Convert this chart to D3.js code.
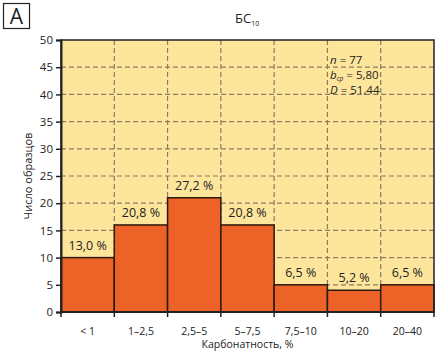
<!DOCTYPE html>
<html>
<head>
<meta charset="utf-8">
<script src="https://cdn.jsdelivr.net/npm/d3@7"></script>
<style>
    body { margin: 0; background: #fff; }
    svg text { font-family: "Open Sans", "Noto Sans", sans-serif; fill: #222; }
</style>
</head>
<body>
<svg id="chart" width="436" height="352"></svg>
<script>
// Data
const categories = ['< 1', '1–2,5', '2,5–5', '5–7,5', '7,5–10', '10–20', '20–40'];
const counts = [10, 16, 21, 16, 5, 4, 5];
const percentLabels = ['13,0 %', '20,8 %', '27,2 %', '20,8 %', '6,5 %', '5,2 %', '6,5 %'];
const yTicks = [0, 5, 10, 15, 20, 25, 30, 35, 40, 45, 50];

/**
 * Visual configs.
 */
const margin = { top: 40, right: 2, bottom: 40, left: 61 },
    width = 436 - margin.left - margin.right,
    height = 352 - margin.top - margin.bottom,
    bgColor = '#fde69c',
    barColor = '#ec6227',
    gridColor = '#8c7b5e';

const svg = d3.select('#chart');
const g = svg.append('g').attr('transform', 'translate(' + margin.left + ',' + margin.top + ')');

const xScale = d3.scaleBand().domain(categories).range([0, width]).padding(0);
const yScale = d3.scaleLinear().domain([0, 50]).range([height, 0]);

// Background
g.append('rect').attr('width', width).attr('height', height).attr('fill', bgColor);

// Grid
g.append('g').attr('class', 'grid')
    .selectAll('line.h').data(yTicks.slice(1, -1)).join('line')
    .attr('x1', 0).attr('x2', width)
    .attr('y1', d => yScale(d)).attr('y2', d => yScale(d))
    .attr('stroke', gridColor).attr('stroke-width', 1.2).attr('stroke-dasharray', '5,3');
g.append('g').attr('class', 'grid')
    .selectAll('line.v').data(categories.slice(1)).join('line')
    .attr('x1', d => xScale(d)).attr('x2', d => xScale(d))
    .attr('y1', 0).attr('y2', height)
    .attr('stroke', gridColor).attr('stroke-width', 1.2).attr('stroke-dasharray', '5,3');

// Bars
g.append('g').selectAll('rect').data(counts).join('rect')
    .attr('x', (d, i) => xScale(categories[i]))
    .attr('y', d => yScale(d))
    .attr('width', xScale.bandwidth())
    .attr('height', d => height - yScale(d))
    .attr('fill', barColor)
    .attr('stroke', '#2a1a10').attr('stroke-width', 1.5);

// Percent labels
g.append('g').selectAll('text').data(counts).join('text')
    .attr('x', (d, i) => xScale(categories[i]) + xScale.bandwidth() / 2)
    .attr('y', d => yScale(d) - 8)
    .attr('text-anchor', 'middle')
    .style('font-size', '12.5px')
    .text((d, i) => percentLabels[i]);

// Frame
g.append('rect').attr('width', width).attr('height', height)
    .attr('fill', 'none').attr('stroke', '#222').attr('stroke-width', 1.5);

// Y axis
const yAxis = d3.axisLeft(yScale).tickValues(yTicks).tickSize(5).tickPadding(3);
const yAxisG = g.append('g').call(yAxis);
yAxisG.select('.domain').attr('stroke', '#222').attr('stroke-width', 2);
yAxisG.selectAll('.tick line').attr('stroke', '#222').attr('stroke-width', 1.5);
yAxisG.selectAll('.tick text').style('font-size', '11.5px').attr('fill', '#222');

// X axis: ticks at bar boundaries, labels centred on bars
const xAxisG = g.append('g').attr('transform', 'translate(0,' + height + ')');
xAxisG.append('line').attr('x1', 0).attr('x2', width).attr('stroke', '#222').attr('stroke-width', 2);
xAxisG.selectAll('line.tick').data(categories.concat([null])).join('line')
    .attr('class', 'tick')
    .attr('x1', (d, i) => i * xScale.step()).attr('x2', (d, i) => i * xScale.step())
    .attr('y1', 0).attr('y2', 5)
    .attr('stroke', '#222').attr('stroke-width', 1.5);
xAxisG.selectAll('text').data(categories).join('text')
    .attr('x', d => xScale(d) + xScale.bandwidth() / 2)
    .attr('y', 23)
    .attr('text-anchor', 'middle')
    .style('font-size', '10.5px')
    .text(d => d);

// Axis titles
svg.append('text')
    .attr('transform', 'translate(32,' + (margin.top + height / 2) + ') rotate(-90)')
    .attr('text-anchor', 'middle')
    .style('font-size', '11px')
    .text('Число образцов');
svg.append('text')
    .attr('x', margin.left + width / 2).attr('y', 348)
    .attr('text-anchor', 'middle')
    .style('font-size', '10.5px')
    .text('Карбонатность, %');

// Title
const title = svg.append('text').attr('x', 235).attr('y', 23).style('font-size', '13px');
title.append('tspan').text('БС');
title.append('tspan').attr('dy', 3).style('font-size', '7px').text('10');

// Panel letter
svg.append('rect').attr('x', 3.5).attr('y', 3.5).attr('width', 26).attr('height', 25)
    .attr('fill', '#fff').attr('stroke', '#222').attr('stroke-width', 1.2);
svg.append('text').attr('x', 16.5).attr('y', 24).attr('text-anchor', 'middle')
    .style('font-size', '21px').text('А');

// Statistics annotation, one text per line
const statX = 330;
const statN = svg.append('text').attr('x', statX).attr('y', 64).style('font-size', '11.5px');
statN.append('tspan').style('font-style', 'italic').text('n');
statN.append('tspan').text(' = 77');
const statB = svg.append('text').attr('x', statX).attr('y', 79).style('font-size', '11.5px');
statB.append('tspan').style('font-style', 'italic').text('b');
statB.append('tspan').attr('dy', 2).style('font-size', '6.5px').style('font-style', 'italic').text('ср');
statB.append('tspan').attr('dy', -2).text(' = 5,80');
const statD = svg.append('text').attr('x', statX).attr('y', 94).style('font-size', '11.5px');
statD.append('tspan').style('font-style', 'italic').text('D');
statD.append('tspan').text(' = 51,44');
</script>
</body>
</html>
